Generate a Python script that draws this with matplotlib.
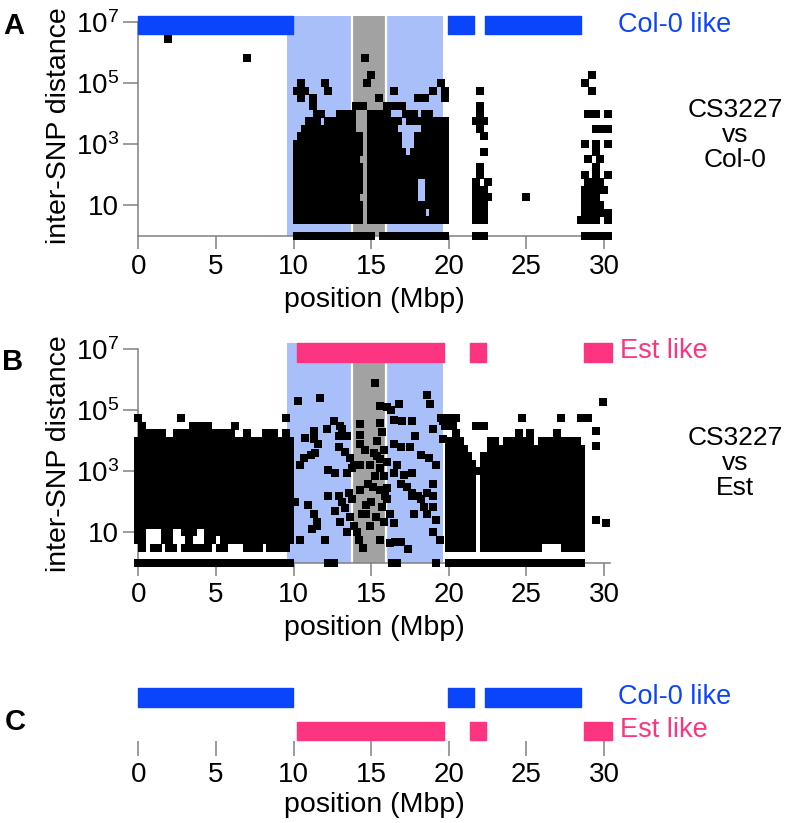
import numpy as np
import matplotlib
matplotlib.use('Agg')
from matplotlib import pyplot
from matplotlib.ticker import FixedLocator, FixedFormatter, NullLocator

pyplot.rcParams['font.family'] = ['Liberation Sans', 'DejaVu Sans']
pyplot.rcParams['mathtext.fontset'] = 'custom'
pyplot.rcParams['mathtext.rm'] = 'Liberation Sans'
pyplot.rcParams['mathtext.it'] = 'Liberation Sans:italic'

blue = '#0a44fb'
pink = '#fd3580'
shadeBlue = '#a9bff9'
shadeGray = '#a2a2a2'
spineGray = '#808080'

# haplotype blocks (Mbp)
colLike = [(0.0, 9.97), (19.98, 21.65), (22.35, 28.55)]
estLike = [(10.25, 19.68), (21.35, 22.4), (28.7, 30.55)]
mappingRegion = (9.55, 19.6)
candidateRegion = (13.78, 15.97)

xTicks = [0, 5, 10, 15, 20, 25, 30]
yTicks = [10, 1e3, 1e5, 1e7]
yTickLabels = ['10', r'$10^3$', r'$10^5$', r'$10^7$']

# SNP marks at marker resolution:
# key = row (log10 distance / 0.25), value = columns (position / 0.25 Mbp)
rowsA = {
    21: "60 117",
    20: "42 48 59 78 115",
    19: "41 43 49 66 76 79 88 117",
    18: "42 45 62 72 74 79",
    17: "45 56 58 64-65 67-68 88",
    16: "46-47 52-55 60-61 63-64 69-71 74-75 88 116 118 121",
    15: "44-46 49-55 60-67 70-73 75-79 87 89",
    14: "43-49 51-55 60-66 74-79 88 118 120-121",
    13: "42-47 49-57 60-67 72-79 89",
    12: "41-57 60-67 72-79 115 118 121",
    11: "41-46 48-57 60-68 71-79 89 118",
    10: "41-56 60-74 76-79 116 119",
    9: "41-57 60-79 88 118",
    8: "41-49 51-57 60-79 88 115 118 121",
    7: "41-57 60-71 75-79 87 90 116-117 119",
    6: "41-57 60-71 75-79 87-89 115-118 120",
    5: "41-56 60-71 75-79 87-90 100 115-118",
    4: "41-57 60-71 73-79 87-89 115-119",
    3: "41-42 44-57 60-73 76-79 87-89 115-118 120-121",
    2: "41-57 60-79 87-89 114 116 118 121",
    0: "41 43-60 63-79 87-89 115-121",
}
outA_pos = [1.9, 7.0, 14.6]
outA_log = [6.44, 5.83, 5.83]

rowsB = {
    19: "0 11 38 78 80 82 99 109 114 116",
    18: "1 14 16 18 25 79-81 87 89",
    17: "1-6 10-11 13-15 17-20 22-24 28 33-35 38 82 98 101 108",
    16: "0-8 10-21 23-30 32-39 80-83 91-92 95-96 98-101 104-106 108-110 112-113",
    15: "0-4 6-39 80-84 91-114",
    14: "0-39 80-85 89-114",
    13: "0-39 80-86 89-114",
    12: "0-39 80-114",
    11: "0-39 80-86 89-114",
    10: "0-39 80-86 89-114",
    9: "0-39 80-86 89-114",
    8: "0-39 80-86 89-114",
    7: "0-39 80-86 89-114",
    6: "0-39 80-86 89-114",
    5: "0-39 80-86 89-114",
    4: "0-1 7-8 12-14 18-39 80-86 89-114",
    3: "0-1 7-8 13 18-19 22-26 28-33 35-39 80-86 89-114",
    2: "1 4-5 8-9 12-13 15-18 21-22 28-31 34-38 80-86 89-103 110-114",
    0: "0-39 80-114",
}
# scattered SNPs inside the mapping region and beyond 29 Mbp
sparseB_pos = [10.3, 11.7, 11.3, 10.75, 11.3, 11.6, 11.1, 11.4, 10.65, 10.4,
               12.15, 12.6, 13.0, 13.1, 12.9, 13.45, 12.9, 13.3, 13.65, 13.9,
               14.3, 14.3, 14.3, 12.25, 12.7, 13.45, 13.75, 14.3, 15.25, 15.6,
               16.0, 16.25, 16.8, 15.6, 16.45, 17.0, 17.65, 18.6, 18.8, 15.4,
               15.8, 15.4, 16.45, 16.9, 17.5, 17.85, 18.2, 18.7, 19.2, 19.0,
               19.6, 19.6, 15.6, 16.0, 14.95, 15.6, 16.7, 17.1, 16.45, 17.65,
               15.25, 15.8, 15.15, 15.6, 16.0, 15.9, 16.9, 17.3, 17.65, 18.0,
               18.6, 19.0, 19.0, 14.3, 13.55, 13.75, 12.9, 12.25, 10.95, 11.3,
               11.5, 11.2, 12.7, 13.1, 13.3, 13.0, 13.65, 13.9, 14.1, 14.4,
               14.7, 14.95, 13.45, 15.7, 16.0, 16.2, 15.8, 16.45, 15.6, 16.2,
               16.55, 16.9, 17.4, 17.65, 18.2, 18.4, 17.75, 18.6, 19.0, 19.15,
               19.0, 19.45, 14.5, 12.25, 12.6, 16.35, 16.7, 19.2, 10.1, 9.8,
               10.4, 12.0, 11.5, 14.2, 15.0, 15.3, 14.8, 15.2, 15.7, 14.6,
               14.7, 29.93, 29.47, 29.47, 29.47, 30.15]
sparseB_log = [5.3, 5.4, 4.33, 4.1, 4.05, 3.9, 3.55, 3.6, 3.45, 3.2,
               4.4, 4.65, 4.5, 4.4, 4.15, 4.15, 3.8, 3.65, 3.45, 3.2,
               4.55, 4.2, 3.9, 3.05, 2.95, 2.95, 3.1, 3.2, 5.9, 5.15,
               5.1, 5.0, 5.2, 4.6, 4.7, 4.65, 4.65, 5.5, 5.2, 4.0,
               3.7, 3.5, 3.9, 3.8, 3.8, 4.15, 3.55, 3.45, 3.2, 4.4,
               4.65, 4.05, 3.4, 3.3, 3.2, 3.1, 3.2, 2.9, 2.95, 2.95,
               2.85, 2.85, 2.5, 2.4, 2.45, 2.2, 2.6, 2.5, 2.3, 2.2,
               2.3, 2.6, 2.2, 2.4, 2.3, 2.1, 2.2, 2.2, 1.9, 1.6,
               1.35, 1.1, 1.7, 2.0, 1.8, 1.35, 1.5, 1.2, 1.0, 1.6,
               1.6, 1.2, 1.0, 1.85, 2.1, 1.6, 1.35, 1.3, 0.75, 0.65,
               0.7, 0.7, 0.45, 2.2, 2.1, 1.85, 1.6, 1.6, 1.85, 1.4,
               1.0, 0.75, 0.5, 0.0, 0.0, 0.0, 0.0, 0.0, 2.0, 1.4,
               0.75, 0.75, 1.2, 0.75, 2.0, 1.5, 2.6, 3.6, 4.3, 3.7,
               1.9, 5.28, 4.33, 3.83, 1.42, 1.3]


def expandRows(rows):
    xs, ys = [], []
    for r, spec in rows.items():
        for tok in spec.split():
            if '-' in tok:
                a, b = tok.split('-')
                cols = range(int(a), int(b) + 1)
            else:
                cols = [int(tok)]
            for c in cols:
                xs.append(c * 0.25)
                ys.append(10 ** (r * 0.25))
    return xs, ys


def styleAxis(axis, blocks, blockColor):
    axis.set_yscale('log')
    axis.set_xlim(0, 30.4)
    axis.set_ylim(1, 10 ** 7.2)
    for side in ['top', 'right']:
        axis.spines[side].set_visible(False)
    for side in ['left', 'bottom']:
        axis.spines[side].set_color(spineGray)
        axis.spines[side].set_linewidth(1.1)
    axis.spines['left'].set_bounds(1, 1e7)
    axis.xaxis.set_major_locator(FixedLocator(xTicks))
    axis.yaxis.set_major_locator(FixedLocator(yTicks))
    axis.yaxis.set_major_formatter(FixedFormatter(yTickLabels))
    axis.yaxis.set_minor_locator(NullLocator())
    axis.tick_params(axis='x', direction='out', length=9.5, width=1.1, color=spineGray,
                     labelsize=20, pad=4)
    axis.tick_params(axis='y', direction='out', length=10.8, width=1.1, color=spineGray,
                     labelsize=20, pad=3)
    axis.axvspan(*mappingRegion, color=shadeBlue, lw=0, zorder=0)
    axis.axvspan(*candidateRegion, color=shadeGray, lw=0, zorder=0.5)
    for edge in candidateRegion:
        axis.axvline(edge, color='white', lw=1.6, zorder=0.6)
    axis.broken_barh([(a, b - a) for a, b in blocks], (10 ** 6.6, 10 ** 7.2 - 10 ** 6.6),
                     color=blockColor, clip_on=False, zorder=3)
    axis.set_xlabel('position (Mbp)', fontsize=20.5, labelpad=5)
    axis.set_ylabel('inter-SNP distance', fontsize=20.5, labelpad=3)


figure = pyplot.figure(figsize=(7.93, 8.23), dpi=100)
axis1 = figure.add_axes([0.1744, 0.71385, 0.5950, 0.26683])
axis2 = figure.add_axes([0.1744, 0.31592, 0.5950, 0.26683])
axis3 = figure.add_axes([0.1744, 0.09964, 0.5950, 0.0802])

styleAxis(axis1, colLike, blue)
styleAxis(axis2, estLike, pink)

xA, yA = expandRows(rowsA)
xA += outA_pos
yA += [10 ** v for v in outA_log]
axis1.scatter(xA, yA, s=34, marker='s', color='black', linewidths=0, clip_on=False, zorder=4)

xB, yB = expandRows(rowsB)
xB += sparseB_pos
yB += [10 ** v for v in sparseB_log]
axis2.scatter(xB, yB, s=34, marker='s', color='black', linewidths=0, clip_on=False, zorder=4)

# panel C: haplotype summary
axis3.set_xlim(0, 30.4)
axis3.set_ylim(-0.3, 1.67)
for side in ['top', 'right', 'left', 'bottom']:
    axis3.spines[side].set_visible(False)
axis3.broken_barh([(a, b - a) for a, b in colLike], (1 - 0.28, 0.56), color=blue, clip_on=False)
axis3.broken_barh([(a, b - a) for a, b in estLike], (0 - 0.28, 0.56), color=pink, clip_on=False)
axis3.set_yticks([])
axis3.xaxis.set_major_locator(FixedLocator(xTicks))
axis3.tick_params(axis='x', direction='out', length=10.8, width=1.1, color=spineGray,
                  labelsize=20, pad=4)
axis3.set_xlabel('position (Mbp)', fontsize=20.5, labelpad=3)

# annotations
figure.text(0.7793, 1 - 25 / 823, 'Col-0 like', color=blue, fontsize=19.5, va='center')
figure.text(0.7818, 1 - 351 / 823, 'Est like', color=pink, fontsize=19.5, va='center')
figure.text(0.7793, 1 - 697 / 823, 'Col-0 like', color=blue, fontsize=19.5, va='center')
figure.text(0.7818, 1 - 730 / 823, 'Est like', color=pink, fontsize=19.5, va='center')
figure.text(735 / 793, 1 - 135 / 823, 'CS3227\nvs\nCol-0', fontsize=19, ha='center',
            va='center', linespacing=1.05)
figure.text(735 / 793, 1 - 463 / 823, 'CS3227\nvs\nEst', fontsize=19, ha='center',
            va='center', linespacing=1.05)
figure.text(13.5 / 793, 1 - 26 / 823, 'A', fontsize=21, fontweight='bold', ha='center', va='center')
figure.text(12.5 / 793, 1 - 362 / 823, 'B', fontsize=21, fontweight='bold', ha='center', va='center')
figure.text(15 / 793, 1 - 722 / 823, 'C', fontsize=21, fontweight='bold', ha='center', va='center')

pyplot.savefig('out.png', dpi=100)
